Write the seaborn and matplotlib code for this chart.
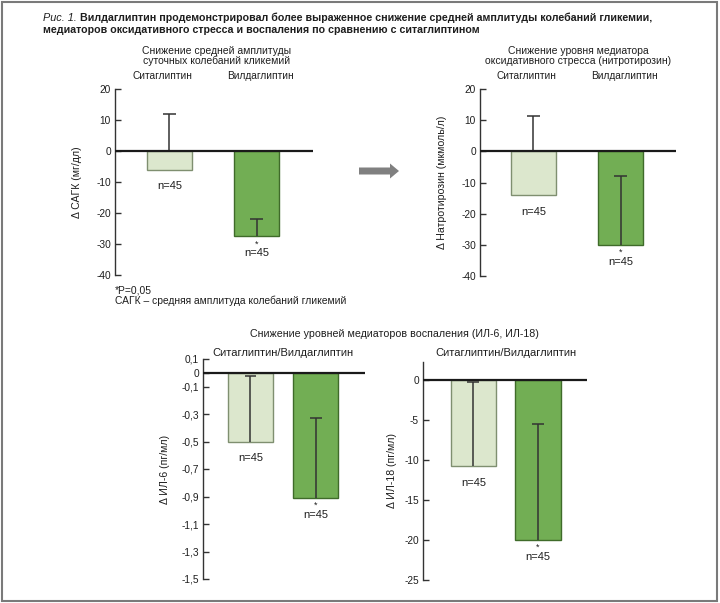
import numpy as np
import matplotlib
matplotlib.use("Agg")
import matplotlib.pyplot as plt
import matplotlib.patches as mpatches
import matplotlib.transforms as mtransforms
import seaborn as sns

# ---- data ----
drugs = ["Ситаглиптин", "Вилдаглиптин"]

# САГК, мг/дл: bar value and upper end of the error bar
sagk_vals = [-6, -27.5]
sagk_err_end = [12, -22]

# nitrotyrosine, мкмоль/л
nitro_vals = [-14, -30]
nitro_err_end = [11.3, -7.8]

# IL-6, пг/мл
il6_vals = [-0.5, -0.91]
il6_err_end = [-0.02, -0.33]

# IL-18, пг/мл
il18_vals = [-10.8, -20]
il18_err_end = [-0.3, -5.5]

n_labels = ["n=45", "n=45"]
signif = ["", "*"]

top_ticks = [20, 10, 0, -10, -20, -30, -40]
top_ticklabels = ["20", "10", "0", "-10", "-20", "-30", "-40"]
il6_ticks = [0.1, 0, -0.1, -0.3, -0.5, -0.7, -0.9, -1.1, -1.3, -1.5]
il6_ticklabels = ["0,1", "0", "-0,1", "-0,3", "-0,5", "-0,7", "-0,9", "-1,1", "-1,3", "-1,5"]
il18_ticks = [0, -5, -10, -15, -20, -25]
il18_ticklabels = ["0", "-5", "-10", "-15", "-20", "-25"]

LIGHT = "#dcebc9"
DARK = "#6dbd45"
LIGHT_EDGE = "#7f8f70"
DARK_EDGE = "#3f6b2a"
TXT = "#1e1e1e"

sns.set_style("white")
plt.rcParams["font.family"] = ["Liberation Sans", "DejaVu Sans"]

W, H = 720, 603
fig = plt.figure(figsize=(W / 100, H / 100), dpi=100)


# axes rectangle given in pixel coordinates of the picture
def add_axes_px(left, right, top, bottom):
    return fig.add_axes([left / W, 1 - bottom / H, (right - left) / W, (bottom - top) / H])


def draw_panel(ax, vals, err_end, ylim, ticks, ticklabels, ylabel, xlim, width, cap,
               labelpad, light_err_behind=False):
    sns.barplot(x=drugs, y=vals, hue=drugs, palette=[LIGHT, DARK], width=width,
                ax=ax, legend=False, linewidth=1, zorder=3)
    for patch, ec in zip(ax.patches, [LIGHT_EDGE, DARK_EDGE]):
        patch.set_edgecolor(ec)
    for i, (v, e) in enumerate(zip(vals, err_end)):
        z = 2 if (light_err_behind and i == 0) else 4
        # one-sided error bar: stem from the bar end up to the cap
        ax.vlines(i, v, e, color="#333333", lw=1.1, zorder=z)
        ax.hlines(e, i - cap, i + cap, color="#333333", lw=1.1, zorder=z)
        ax.annotate(n_labels[i], (i, v), xytext=(0, -12), textcoords="offset points",
                    ha="center", va="center", fontsize=8, color=TXT)
        if signif[i]:
            ax.annotate(signif[i], (i, v), xytext=(0, -5.5), textcoords="offset points",
                        ha="center", va="center", fontsize=6.5, color=TXT)
    ax.axhline(0, color="#1a1a1a", lw=1.6, zorder=5)
    ax.set_ylim(*ylim)
    ax.set_xlim(*xlim)
    ax.set_yticks(ticks)
    ax.set_yticklabels(ticklabels)
    ax.set_ylabel(ylabel, fontsize=7.6, labelpad=labelpad, color=TXT)
    ax.set_xlabel("")
    sns.despine(ax=ax, bottom=True)
    ax.spines["left"].set_color("#333333")
    ax.spines["left"].set_linewidth(1)
    ax.tick_params(axis="y", direction="in", length=4, width=1, color="#333333",
                   labelsize=7.3, labelcolor=TXT, left=True, pad=3)
    ax.set_xticks([])
    ax.set_facecolor("none")


# --- top left: САГК ---
ax1 = add_axes_px(115, 313, 89, 275)
draw_panel(ax1, sagk_vals, sagk_err_end, (-40, 20), top_ticks, top_ticklabels,
           "Δ САГК (мг/дл)", (-0.62, 1.64), 0.514, 0.074, 10, light_err_behind=True)

# --- top right: nitrotyrosine ---
ax2 = add_axes_px(480, 676, 89, 276)
draw_panel(ax2, nitro_vals, nitro_err_end, (-40, 20), top_ticks, top_ticklabels,
           "Δ Натротирозин (мкмоль/л)", (-0.61, 1.63), 0.514, 0.074, 10,
           light_err_behind=True)

# drug names above the top panels
for ax in (ax1, ax2):
    tr = mtransforms.blended_transform_factory(ax.transData, ax.transAxes)
    for i, name in enumerate(drugs):
        ax.text(i + (-0.08 if i == 0 else 0.04), 1.07, name, transform=tr,
                ha="center", va="center", fontsize=7.3, color=TXT)

# --- bottom left: IL-6 ---
ax3 = add_axes_px(203, 365, 359, 579)
draw_panel(ax3, il6_vals, il6_err_end, (-1.5, 0.1), il6_ticks, il6_ticklabels,
           "Δ ИЛ-6 (пг/мл)", (-0.73, 1.76), 0.69, 0.092, 8)

# --- bottom right: IL-18 ---
ax4 = add_axes_px(423, 587, 362, 580)
draw_panel(ax4, il18_vals, il18_err_end, (-25, 2.25), il18_ticks, il18_ticklabels,
           "Δ ИЛ-18 (пг/мл)", (-0.78, 1.76), 0.70, 0.093, 5)

for ax in (ax3, ax4):
    tr = mtransforms.blended_transform_factory(ax.transData, fig.transFigure)
    ax.text(0.5, 1 - 353 / H, "Ситаглиптин/Вилдаглиптин", transform=tr, ha="center",
            va="center", fontsize=8, color=TXT)

# --- overlay in pixel coordinates for titles, arrow and frame ---
canvas = fig.add_axes([0, 0, 1, 1], zorder=-1)
canvas.set_xlim(0, W)
canvas.set_ylim(H, 0)
canvas.axis("off")

t1 = canvas.text(43, 18, "Рис. 1.", fontsize=7.8, style="italic", va="center", color=TXT)
canvas.annotate(" Вилдаглиптин продемонстрировал более выраженное снижение средней "
                "амплитуды колебаний гликемии,", xy=(1, 0.5), xycoords=t1,
                va="center", ha="left", fontsize=7.65, fontweight="bold", color=TXT)
canvas.text(43, 30, "медиаторов оксидативного стресса и воспаления по сравнению с ситаглиптином",
            fontsize=7.65, fontweight="bold", va="center", color=TXT)

canvas.text(217, 50.5, "Снижение средней амплитуды", ha="center", va="center",
            fontsize=7.5, color=TXT)
canvas.text(217, 61, "суточных колебаний кликемий", ha="center", va="center",
            fontsize=7.5, color=TXT)
canvas.text(578, 50.5, "Снижение уровня медиатора", ha="center", va="center",
            fontsize=7.5, color=TXT)
canvas.text(578, 61, "оксидативного стресса (нитротирозин)", ha="center", va="center",
            fontsize=7.5, color=TXT)
canvas.text(115, 290.5, "*P=0,05", ha="left", va="center", fontsize=7.4, color=TXT)
canvas.text(115, 301, "САГК – средняя амплитуда колебаний гликемий",
            ha="left", va="center", fontsize=7.4, color=TXT)
canvas.text(394, 334, "Снижение уровней медиаторов воспаления (ИЛ-6, ИЛ-18)",
            ha="center", va="center", fontsize=7.7, color=TXT)

canvas.add_patch(mpatches.FancyArrow(359, 171, 40, 0, width=7, head_width=15,
                                     head_length=9, length_includes_head=True,
                                     color="#808080", lw=0))
canvas.add_patch(mpatches.Rectangle((2, 2), W - 5, H - 4, fill=False,
                                    edgecolor="#7a7a7a", lw=1.5))

fig.savefig("out.png", dpi=100)
